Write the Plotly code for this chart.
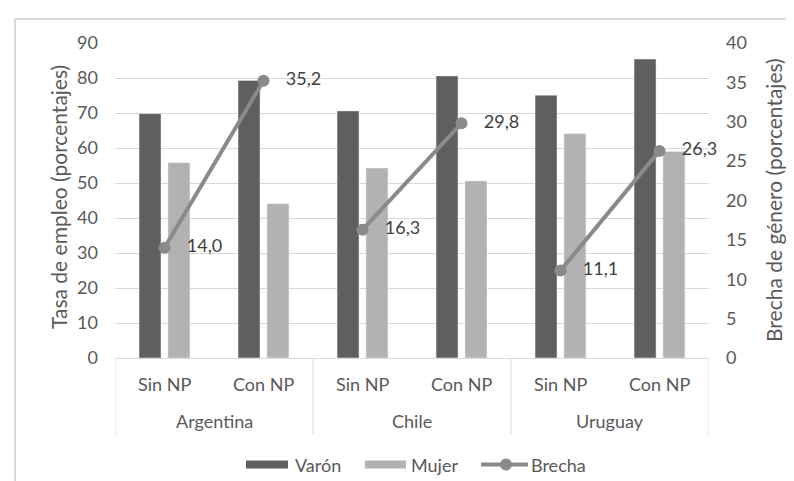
import plotly.graph_objects as go

paises = ["Argentina", "Chile", "Uruguay"]
condiciones = ["Sin NP", "Con NP"]

varon = [69.8, 79.3, 70.6, 80.6, 75.1, 85.4]
mujer = [55.8, 44.1, 54.3, 50.6, 64.1, 59.0]
brecha = [14.0, 35.2, 16.3, 29.8, 11.1, 26.3]

FONT = "Lato"
GRID = "#d9d9d9"
TXT = "#595959"
C_VARON = "#5f5f5f"
C_MUJER = "#b2b2b2"
C_BRECHA = "#8a8a8a"

# plot area in pixels, used to place legend / labels in paper coords
L, R, T, B = 107, 701, 35, 350
W, H = R - L, B - T


def px(x):
    return (x - L) / W


def py(y):
    return (B - y) / H


keys = [f"{p}|{c}" for p in paises for c in condiciones]

fig = go.Figure()
fig.add_trace(go.Bar(x=keys, y=varon, name="Varón", marker_color=C_VARON))
fig.add_trace(go.Bar(x=keys, y=mujer, name="Mujer", marker_color=C_MUJER))

# the gap line is broken between countries -> one trace per country
for i in range(len(paises)):
    vals = brecha[2 * i:2 * i + 2]
    fig.add_trace(
        go.Scatter(
            x=keys[2 * i:2 * i + 2],
            y=vals,
            yaxis="y2",
            mode="lines+markers+text",
            name="Brecha",
            line={"color": C_BRECHA, "width": 4},
            marker={"size": 12, "color": C_BRECHA},
            text=["   " + f"{v:.1f}".replace(".", ",") for v in vals],
            textposition="middle right",
            textfont={"family": FONT, "size": 18, "color": "#404040"},
            cliponaxis=False,
        )
    )

annotations = []
shapes = []

# category labels (two levels) and the dividers between countries
for i, k in enumerate(keys):
    annotations.append(dict(
        text=k.split("|")[1], x=i, y=py(376), xref="x", yref="paper",
        showarrow=False, xanchor="center", yanchor="middle",
        font={"size": 18, "color": TXT},
    ))
for i, p in enumerate(paises):
    annotations.append(dict(
        text=p, x=2 * i + 0.5, y=py(413), xref="x", yref="paper",
        showarrow=False, xanchor="center", yanchor="middle",
        font={"size": 18, "color": TXT},
    ))
for j in range(len(paises) + 1):
    shapes.append(dict(
        type="line", xref="x", yref="paper", x0=2 * j - 0.5, x1=2 * j - 0.5,
        y0=0, y1=py(427), line={"color": GRID, "width": 1},
    ))

# axis titles
annotations += [
    dict(text="Tasa de empleo (porcentajes)", x=px(50), y=py(189),
         xref="paper", yref="paper", textangle=-90, showarrow=False,
         xanchor="center", yanchor="middle",
         font={"size": 21, "color": TXT}),
    dict(text="Brecha de género (porcentajes)", x=px(765), y=py(192),
         xref="paper", yref="paper", textangle=-90, showarrow=False,
         xanchor="center", yanchor="middle",
         font={"size": 21, "color": TXT}),
]

# legend drawn by hand (Excel style keys)
ly = 456.5
shapes += [
    dict(type="rect", xref="paper", yref="paper", x0=px(238), x1=px(280),
         y0=py(ly + 4), y1=py(ly - 4), fillcolor=C_VARON, line={"width": 0}),
    dict(type="rect", xref="paper", yref="paper", x0=px(357), x1=px(398),
         y0=py(ly + 4), y1=py(ly - 4), fillcolor=C_MUJER, line={"width": 0}),
    dict(type="line", xref="paper", yref="paper", x0=px(473), x1=px(520),
         y0=py(ly), y1=py(ly), line={"color": C_BRECHA, "width": 4}),
    dict(type="circle", xref="paper", yref="paper", x0=px(492), x1=px(504),
         y0=py(ly + 6), y1=py(ly - 6), fillcolor=C_BRECHA, line={"width": 0}),
]
for txt, x0 in [("Varón", 285), ("Mujer", 401), ("Brecha", 521)]:
    annotations.append(dict(
        text=txt, x=px(x0), y=py(ly), xref="paper", yref="paper",
        xanchor="left", yanchor="middle", showarrow=False,
        font={"size": 18, "color": TXT},
    ))

# chart-area border (only left and top edges fall inside the picture)
shapes += [
    dict(type="line", xref="paper", yref="paper", x0=px(7), x1=px(800),
         y0=py(11), y1=py(11), line={"color": GRID, "width": 2}),
    dict(type="line", xref="paper", yref="paper", x0=px(7), x1=px(7),
         y0=py(11), y1=py(490), line={"color": GRID, "width": 2}),
]

fig.update_layout(
    width=794,
    height=481,
    margin={"l": L, "r": 794 - R, "t": T, "b": 481 - B},
    paper_bgcolor="white",
    plot_bgcolor="white",
    font={"family": FONT, "size": 18, "color": TXT},
    barmode="group",
    bargap=0.416,
    bargroupgap=0.24,
    showlegend=False,
    xaxis={
        "type": "category",
        "categoryorder": "array",
        "categoryarray": keys,
        "range": [-0.5, 5.5],
        "showline": True,
        "linecolor": GRID,
        "linewidth": 1,
        "showticklabels": False,
        "showgrid": False,
        "automargin": False,
    },
    yaxis={
        "range": [0, 90],
        "dtick": 10,
        "showgrid": True,
        "gridcolor": GRID,
        "gridwidth": 1,
        "zeroline": False,
        "showline": False,
        "ticklabelstandoff": 16,
        "tickfont": {"size": 18, "color": TXT},
        "automargin": False,
    },
    yaxis2={
        "range": [0, 40],
        "dtick": 5,
        "overlaying": "y",
        "side": "right",
        "showgrid": False,
        "zeroline": False,
        "showline": False,
        "ticklabelstandoff": 16,
        "tickfont": {"size": 18, "color": TXT},
        "automargin": False,
    },
    annotations=annotations,
    shapes=shapes,
)

fig.write_html("out.html")
